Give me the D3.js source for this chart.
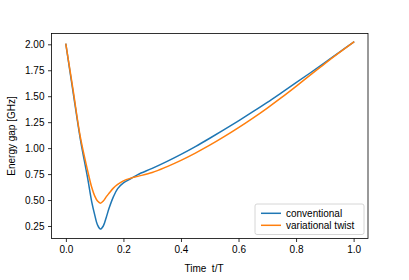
<!DOCTYPE html>
<html>
<head>
<meta charset="utf-8">
<script src="https://cdn.jsdelivr.net/npm/d3@7"></script>
<style>
  html, body { margin: 0; padding: 0; background: #fff; }
  svg { display: block; font-family: "Liberation Sans", Arial, sans-serif; }
</style>
</head>
<body>
<svg id="chart" width="409" height="280"></svg>
<script>
// ---- data ----
const tValues = [0, 0.025, 0.05, 0.075, 0.09, 0.1, 0.11, 0.12, 0.13, 0.14, 0.15, 0.165, 0.18, 0.2, 0.225, 0.25, 0.3, 0.35, 0.4, 0.45, 0.5, 0.55, 0.6, 0.65, 0.7, 0.75, 0.8, 0.85, 0.9, 0.95, 1.0];
const conventional = [2.00, 1.54, 1.09, 0.72, 0.48, 0.36, 0.26, 0.22, 0.25, 0.33, 0.42, 0.53, 0.61, 0.665, 0.705, 0.745, 0.805, 0.87, 0.94, 1.015, 1.095, 1.178, 1.263, 1.351, 1.441, 1.535, 1.630, 1.726, 1.823, 1.922, 2.021];
const variationalTwist = [2.00, 1.56, 1.11, 0.79, 0.62, 0.54, 0.49, 0.47, 0.49, 0.53, 0.565, 0.615, 0.65, 0.685, 0.71, 0.728, 0.765, 0.82, 0.882, 0.952, 1.028, 1.11, 1.197, 1.289, 1.386, 1.488, 1.595, 1.705, 1.814, 1.919, 2.021];
const seriesNames = ["conventional", "variational twist"];
const xTicks = [0, 0.2, 0.4, 0.6, 0.8, 1.0];
const yTicks = [0.25, 0.5, 0.75, 1.0, 1.25, 1.5, 1.75, 2.0];
const xLabel = "Time  t/T";
const yLabel = "Energy gap [GHz]";

// ---- layout ----
const colors = ["#1f77b4", "#ff7f0e"];
const L = 51.5, R = 368, T = 33.5, B = 238.5;
const svg = d3.select("#chart");

const x = d3.scaleLinear().domain([-0.05, 1.05]).range([L, R]);
const y = d3.scaleLinear().domain([0.1296, 2.104]).range([B, T]);

const series = [conventional, variationalTwist].map((vals, i) => ({
  name: seriesNames[i],
  color: colors[i],
  points: tValues.map((t, j) => [t, vals[j]])
}));

const line = d3.line()
  .x(d => x(d[0]))
  .y(d => y(d[1]))
  .curve(d3.curveCatmullRom.alpha(0.5));

svg.append("defs").append("clipPath").attr("id", "clip")
  .append("rect").attr("x", L).attr("y", T).attr("width", R - L).attr("height", B - T);

svg.append("g").attr("clip-path", "url(#clip)")
  .selectAll("path").data(series).join("path")
  .attr("d", d => line(d.points))
  .attr("fill", "none")
  .attr("stroke", d => d.color)
  .attr("stroke-width", 1.5)
  .attr("stroke-linejoin", "round")
  .attr("stroke-linecap", "square");

// axes
const xAxis = d3.axisBottom(x).tickValues(xTicks).tickFormat(d3.format(".1f"))
  .tickSize(3.5).tickPadding(4).tickSizeOuter(0);
const yAxis = d3.axisLeft(y).tickValues(yTicks).tickFormat(d3.format(".2f"))
  .tickSize(3.5).tickPadding(3.5).tickSizeOuter(0);

const gx = svg.append("g").attr("transform", `translate(0,${B})`).call(xAxis);
const gy = svg.append("g").attr("transform", `translate(${L},0)`).call(yAxis);
[gx, gy].forEach(g => {
  g.select(".domain").remove();
  g.selectAll("line").attr("stroke", "#000").attr("stroke-width", 0.8);
  g.selectAll("text").attr("fill", "#000").attr("font-size", 10)
    .attr("font-family", '"Liberation Sans", Arial, sans-serif');
});

// frame
svg.append("rect").attr("x", L).attr("y", T).attr("width", R - L).attr("height", B - T)
  .attr("fill", "none").attr("stroke", "#000").attr("stroke-width", 0.8);

// labels
svg.append("text").attr("x", 204).attr("y", 272)
  .attr("text-anchor", "middle").attr("font-size", 10).attr("fill", "#000")
  .style("white-space", "pre").attr("xml:space", "preserve")
  .text(xLabel);
svg.append("text").attr("transform", `translate(15,${(T + B) / 2}) rotate(-90)`)
  .attr("text-anchor", "middle").attr("font-size", 10).attr("fill", "#000")
  .text(yLabel);

// legend
const lg = svg.append("g");
lg.append("rect").attr("x", 255).attr("y", 204).attr("width", 109).attr("height", 30.5)
  .attr("rx", 2).attr("fill", "#fff").attr("fill-opacity", 0.8)
  .attr("stroke", "#ccc").attr("stroke-width", 0.8);
series.forEach((s, i) => {
  const yy = 213.3 + i * 12;
  lg.append("line").attr("x1", 261).attr("x2", 281).attr("y1", yy).attr("y2", yy)
    .attr("stroke", s.color).attr("stroke-width", 1.5);
  lg.append("text").attr("x", 286).attr("y", yy + 3.6)
    .attr("font-size", 10).attr("fill", "#000").text(s.name);
});
</script>
</body>
</html>
